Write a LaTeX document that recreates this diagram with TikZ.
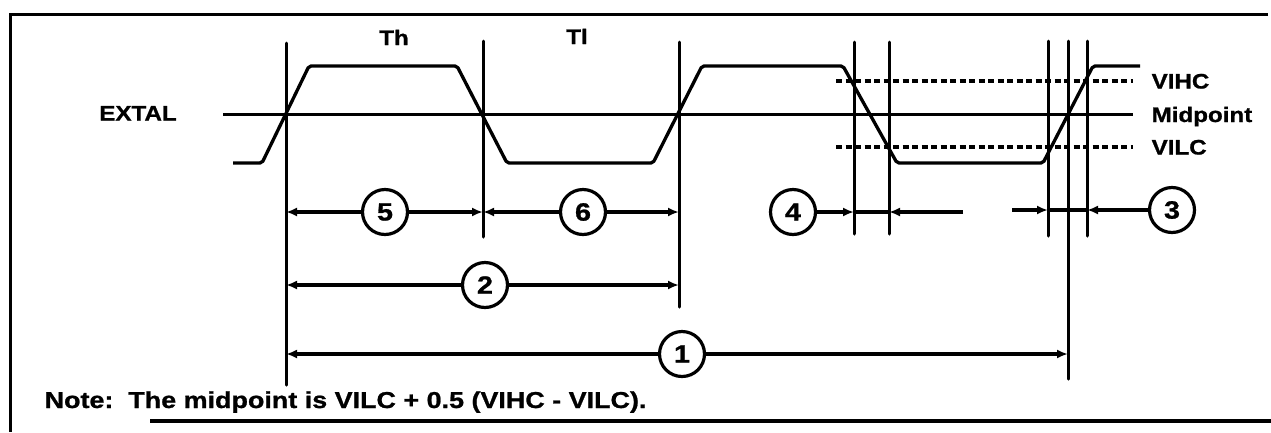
\documentclass[tikz,border=0pt]{standalone}
\usepackage{fontspec}
\setmainfont{Liberation Sans}
\newfontfamily\labfont[FakeStretch=1.15,FakeBold=1]{Liberation Sans}
\newfontfamily\notefont[FakeStretch=1.17,FakeBold=1]{Liberation Sans}
\usetikzlibrary{arrows.meta}
\begin{document}
\begin{tikzpicture}[x=1pt,y=-1pt,
  line width=3.3pt,
  lab/.style={font=\labfont\bfseries\fontsize{21}{25}\selectfont, inner sep=0pt},
  notestyle/.style={font=\notefont\bfseries\fontsize{23}{27}\selectfont, inner sep=0pt},
  num/.style={circle, draw, line width=3.2pt, minimum size=45pt, inner sep=0pt,
              font=\labfont\bfseries\fontsize{25}{29}\selectfont},
  tip/.style={-{Latex[length=11pt,width=9pt]}},
  vline/.style={line width=3pt, line cap=round},
  dots/.style={line width=3.2pt, dash pattern=on 6pt off 3.5pt},
  frame/.style={line width=3.4pt}
]
\useasboundingbox (0,0) rectangle (1271,432);
% frame
\coordinate (ftr) at (1268,14.5);
\coordinate (ftl) at (10.5,14.5);
\coordinate (fbl) at (10.5,432);
\coordinate (fbs) at (150,421);
\coordinate (fbe) at (1271,421);
\draw[frame] (ftr) -- (ftl) -- (fbl);
\draw[frame] (fbs) -- (fbe);

% levels
\coordinate (mids) at (223,114.5);
\coordinate (mide) at (1133,114.5);
\draw (mids) -- (mide);
\coordinate (vihs) at (836,81);
\coordinate (vihe) at (1133,81);
\coordinate (vils) at (836,147);
\coordinate (vile) at (1133,147);
\draw[dots] (vihs) -- (vihe);
\draw[dots] (vils) -- (vile);

% waveform
\draw[rounded corners=2pt] (233,163) -- (262,163) -- (309,66) -- (457,66) -- (507,163)
  -- (653,163) -- (702,66) -- (843,66) -- (897,163) -- (1043,163) -- (1093,66) -- (1140,66);

% vertical lines
\coordinate (v1t) at (286,43);   \coordinate (v1b) at (286,385);
\coordinate (v2t) at (483,41);   \coordinate (v2b) at (483,237);
\coordinate (v3t) at (679,42);   \coordinate (v3b) at (679,307);
\coordinate (v4at) at (854,42);  \coordinate (v4ab) at (854,234);
\coordinate (v4bt) at (889,42);  \coordinate (v4bb) at (889,234);
\coordinate (v5at) at (1048,41); \coordinate (v5ab) at (1048,236);
\coordinate (v5bt) at (1068,41); \coordinate (v5bb) at (1068,379);
\coordinate (v5ct) at (1087,41); \coordinate (v5cb) at (1087,236);
\foreach \v in {v1,v2,v3,v4a,v4b,v5a,v5b,v5c}
  \draw[vline] (\v t) -- (\v b);

% circled numbers
\node[num] (c5) at (385,212) {5};
\node[num] (c6) at (583,212) {6};
\node[num] (c2) at (485,285) {2};
\node[num] (c1) at (682,354) {1};
\node[num] (c4) at (793,212) {4};
\node[num] (c3) at (1172,210) {3};

% dimension arrows
\draw[tip] (c5) -- (v1t |- c5);
\draw[tip] (c5) -- (v2t |- c5);
\draw[tip] (c6) -- (v2t |- c6);
\draw[tip] (c6) -- (v3t |- c6);
\draw[tip] (c2) -- (v1t |- c2);
\draw[tip] (c2) -- (v3t |- c2);
\draw[tip] (c1) -- (v1t |- c1);
\draw[tip] (c1) -- (v5bt |- c1);
% 4
\coordinate (r4e) at (963,212);
\draw[tip] (c4) -- (v4at |- c4);
\draw (v4at |- c4) -- (v4bt |- c4);
\draw[tip] (r4e) -- (v4bt |- c4);
% 3
\coordinate (r3s) at (1012,210);
\draw[tip] (r3s) -- (v5at |- c3);
\draw (v5at |- c3) -- (v5ct |- c3);
\draw[tip] (c3) -- (v5ct |- c3);

% labels
\node[lab, anchor=base] (extal) at (138,120.5) {EXTAL};
\node[lab, anchor=base] (th) at (394,45) {Th};
\node[lab, anchor=base] (tl) at (577,44) {Tl};
\node[lab, anchor=base west] (vihc) at (1150,88.5) {VIHC};
\node[lab, anchor=base west] (midp) at (1150,122) {Midpoint};
\node[lab, anchor=base west] (vilc) at (1150,154.5) {VILC};
\node[notestyle, anchor=base west] (note) at (43,408) {Note:\ \ The midpoint is VILC + 0.5 (VIHC - VILC).};
\end{tikzpicture}
\end{document}
